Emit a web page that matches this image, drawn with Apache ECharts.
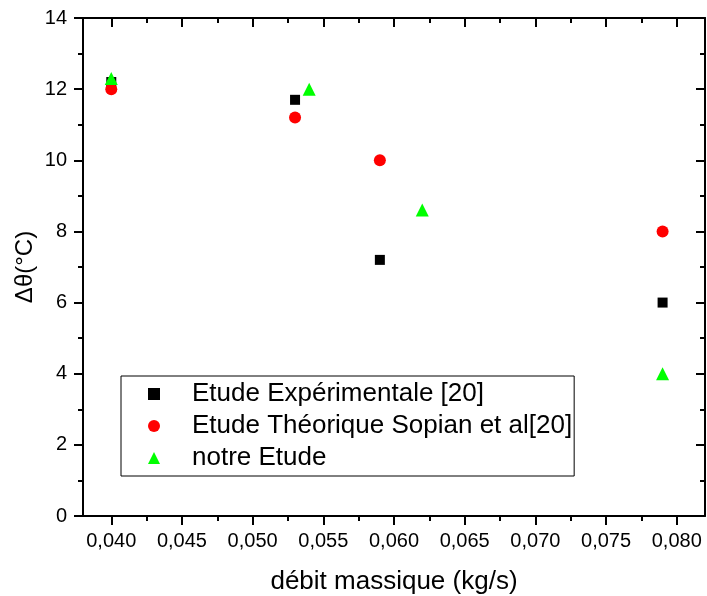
<!DOCTYPE html>
<html>
<head>
<meta charset="utf-8">
<script src="https://cdn.jsdelivr.net/npm/echarts@6/dist/echarts.min.js"></script>
<style>html,body{margin:0;padding:0;background:#fff;}#c{width:707px;height:596px;}</style>
</head>
<body>
<div id="c"></div>
<script>
var xExp = [0.040, 0.053, 0.059, 0.079];
var yExp = [12.2, 11.7, 7.2, 6.0];
var xTheo = [0.040, 0.053, 0.059, 0.079];
var yTheo = [12.0, 11.2, 10.0, 8.0];
var xNotre = [0.040, 0.054, 0.062, 0.079];
var yNotre = [12.3, 12.0, 8.6, 4.0];
var seriesNames = ['Etude Expérimentale [20]', 'Etude Théorique Sopian et al[20]', 'notre Etude'];
var xMajorTicks = [0.040, 0.045, 0.050, 0.055, 0.060, 0.065, 0.070, 0.075, 0.080];
var xMinorTicks = [0.0425, 0.0475, 0.0525, 0.0575, 0.0625, 0.0675, 0.0725, 0.0775];
var xTitle = 'débit massique (kg/s)';
var yTitle = 'Δθ(°C)';

function pairs(xs, ys) { return xs.map(function (x, i) { return [x, ys[i]]; }); }

var FONT = "'Liberation Sans', Arial, sans-serif";
var XMIN = 0.038, XMAX = 0.082;
var lineStyle = { color: '#000', width: 2 };

function xAx(pos, ticks, len, inside, showLine, showLabel) {
  return {
    type: 'value', position: pos, min: XMIN, max: XMAX,
    axisLine: { show: showLine, lineStyle: lineStyle },
    splitLine: { show: false },
    axisTick: { show: true, inside: inside, length: len, customValues: ticks, lineStyle: lineStyle },
    axisLabel: showLabel ? {
      show: true, customValues: ticks, margin: 15, fontSize: 20, color: '#000', fontFamily: FONT,
      formatter: function (v) { return v.toFixed(3).replace('.', ','); }
    } : { show: false }
  };
}

var xAxes = [
  xAx('bottom', xMajorTicks, 9, false, true, true),
  xAx('bottom', xMinorTicks, 5, false, false, false),
  xAx('top', xMajorTicks, 9, true, true, false),
  xAx('top', xMinorTicks, 5, true, false, false)
];
xAxes[0].name = xTitle;
xAxes[0].nameLocation = 'middle';
xAxes[0].nameGap = 53;
xAxes[0].nameMoveOverlap = false;
xAxes[0].nameTextStyle = { fontSize: 26, color: '#000', fontFamily: FONT };

var chart = echarts.init(document.getElementById('c'), null, { renderer: 'canvas' });
chart.setOption({
  animation: false,
  backgroundColor: '#fff',
  grid: { left: 83, right: 2, top: 18, bottom: 80, containLabel: false, outerBoundsMode: 'none' },
  xAxis: xAxes,
  yAxis: [
    {
      type: 'value', position: 'left', min: 0, max: 14, interval: 2,
      name: yTitle, nameLocation: 'middle', nameGap: 46, nameMoveOverlap: false,
      nameTextStyle: { fontSize: 24, color: '#000', fontFamily: FONT },
      axisLine: { show: true, lineStyle: lineStyle },
      splitLine: { show: false },
      axisTick: { show: true, inside: false, length: 9, lineStyle: lineStyle },
      minorTick: { show: true, splitNumber: 2, length: 5, lineStyle: lineStyle },
      axisLabel: { margin: 16, fontSize: 20, color: '#000', fontFamily: FONT }
    },
    {
      type: 'value', position: 'right', min: 0, max: 14, interval: 2,
      axisLine: { show: true, lineStyle: lineStyle },
      splitLine: { show: false },
      axisTick: { show: true, inside: true, length: 9, lineStyle: lineStyle },
      minorTick: { show: true, splitNumber: 2, length: 5, lineStyle: lineStyle },
      axisLabel: { show: false }
    }
  ],
  legend: {
    orient: 'vertical', left: 121, top: 376,
    data: seriesNames,
    borderColor: '#000', borderWidth: 1,
    padding: [5, 2, 5, 27],
    itemWidth: 12, itemHeight: 12, itemGap: 6,
    textStyle: { fontSize: 26, color: '#000', fontFamily: FONT, padding: [0, 0, 0, 27] }
  },
  series: [
    { name: seriesNames[0], type: 'scatter', symbol: 'rect', symbolSize: 10, itemStyle: { color: '#000', opacity: 1 }, data: pairs(xExp, yExp) },
    { name: seriesNames[1], type: 'scatter', symbol: 'circle', symbolSize: 12, itemStyle: { color: '#ff0000', opacity: 1 }, data: pairs(xTheo, yTheo) },
    { name: seriesNames[2], type: 'scatter', symbol: 'triangle', symbolSize: 13, itemStyle: { color: '#00ff00', opacity: 1 }, data: pairs(xNotre, yNotre) }
  ]
});
</script>
</body>
</html>
